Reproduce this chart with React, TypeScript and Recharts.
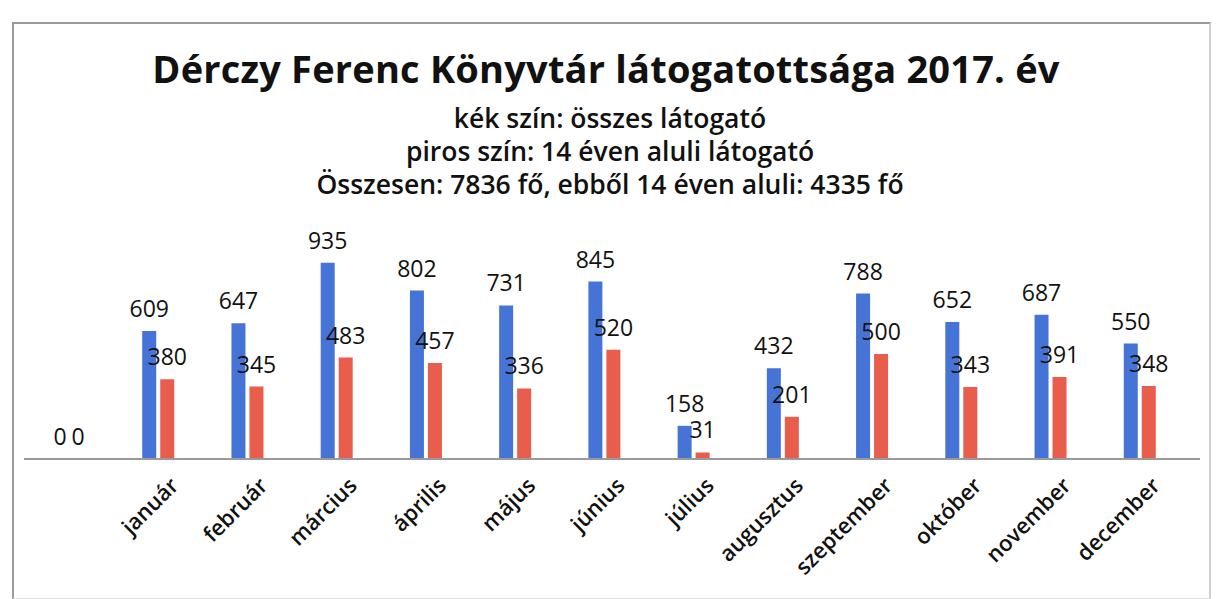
import React from 'react';
import { BarChart, Bar, XAxis, YAxis, LabelList } from 'recharts';

// first slot is the empty category that Excel shows as "0 0"
const months = ['', 'január', 'február', 'március', 'április', 'május', 'június', 'július', 'augusztus', 'szeptember', 'október', 'november', 'december'];
const osszes = [0, 609, 647, 935, 802, 731, 845, 158, 432, 788, 652, 687, 550];
const gyerek = [0, 380, 345, 483, 457, 336, 520, 31, 201, 500, 343, 391, 348];

const subtitleLines = [
  'kék szín: összes látogató',
  'piros szín: 14 éven aluli látogató',
  'Összesen: 7836 fő, ebből 14 éven aluli: 4335 fő',
];

const FONT = '"Open Sans", "Noto Sans", sans-serif';
const BLUE = '#4673D6';
const RED = '#E85D4B';

const data = months.map((m, i) => ({ name: m, osszes: osszes[i], gyerek: gyerek[i] }));

const MonthTick = ({ x, y, payload }: any) => {
  const tx = x + 22;
  const ty = y + 20;
  return (
    <text
      x={tx}
      y={ty}
      transform={`rotate(-45, ${tx}, ${ty})`}
      textAnchor="end"
      fontFamily={FONT}
      fontSize={22}
      fontWeight={600}
      fill="#111"
    >
      {payload.value}
    </text>
  );
};

export default function App() {
  return (
    <div style={{ position: 'absolute', left: 0, top: 0, width: 1221, height: 599, background: '#fff', fontFamily: FONT }}>
      {/* chart frame */}
      <div style={{ position: 'absolute', left: 12, top: 22, width: 1195, height: 574, border: '2px solid #9a9a9a', borderRight: '2px solid #d0d0d0', borderBottom: '1px solid #e0e0e0' }} />

      <div style={{ position: 'absolute', left: 0, top: 42, width: 1212, textAlign: 'center', fontSize: 38, lineHeight: '52px', fontWeight: 700, color: '#111', letterSpacing: 0.2 }}>
        Dérczy Ferenc Könyvtár látogatottsága 2017. év
      </div>
      {subtitleLines.map((line, i) => (
        <div key={i} style={{ position: 'absolute', left: 0, top: 101 + i * 33, width: 1220, textAlign: 'center', fontSize: 26.5, fontWeight: 600, color: '#111', lineHeight: '34px' }}>
          {line}
        </div>
      ))}

      <div style={{ position: 'absolute', left: 0, top: 0 }}>
        <BarChart
          width={1221}
          height={599}
          data={data}
          margin={{ top: 249, right: 21, bottom: 40, left: 24 }}
          barSize={14}
          barGap={4}
        >
          <XAxis
            dataKey="name"
            height={100}
            interval={0}
            tickLine={false}
            axisLine={{ stroke: '#9a9a9a', strokeWidth: 2 }}
            padding={{ left: 0, right: 16 }}
            tick={<MonthTick />}
          />
          <YAxis hide domain={[0, 1000]} />
          <Bar dataKey="osszes" fill={BLUE} minPointSize={0.01} isAnimationActive={false}>
            <LabelList dataKey="osszes" position="top" offset={14} fontFamily={FONT} fontSize={23} fontWeight={500} fill="#111" />
          </Bar>
          <Bar dataKey="gyerek" fill={RED} minPointSize={0.01} isAnimationActive={false}>
            <LabelList dataKey="gyerek" position="top" offset={14} fontFamily={FONT} fontSize={23} fontWeight={500} fill="#111" />
          </Bar>
        </BarChart>
      </div>
    </div>
  );
}
